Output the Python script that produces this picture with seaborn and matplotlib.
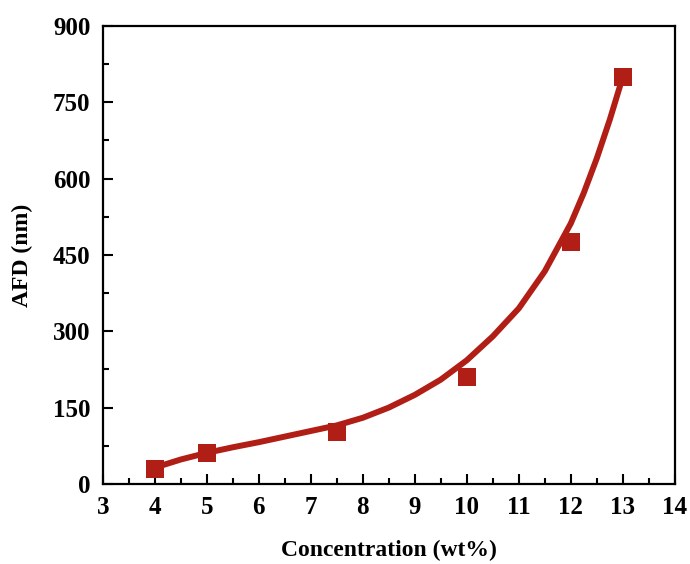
import numpy as np
import pandas as pd
import matplotlib
matplotlib.use("Agg")
import matplotlib.pyplot as plt
import seaborn as sns
from matplotlib.ticker import MultipleLocator

# measured points
conc = [4, 5, 7.5, 10, 12, 13]
afd = [30, 60, 102, 210, 476, 800]

# fitted curve
curve_x = [4, 4.5, 5, 5.5, 6, 6.5, 7, 7.5, 8, 8.5, 9, 9.5, 10, 10.5,
           11, 11.5, 12, 12.25, 12.5, 12.75, 13]
curve_y = [32, 48, 61, 72, 82, 93, 104, 115, 130, 150, 175, 205, 243, 290,
           345, 418, 512, 572, 640, 716, 800]

sns.set_style("ticks")
plt.rcParams['font.family'] = ['Liberation Serif', 'DejaVu Serif']
plt.rcParams['font.weight'] = 'bold'
plt.rcParams['text.color'] = 'black'
plt.rcParams['xtick.color'] = 'black'
plt.rcParams['ytick.color'] = 'black'
plt.rcParams['axes.labelcolor'] = 'black'

red = '#B01E16'

fig = plt.figure(figsize=(6.9, 5.64), dpi=100)
ax = fig.add_axes([0.149, 0.142, 0.829, 0.812])

pts = pd.DataFrame({'x': conc, 'y': afd})
fit = pd.DataFrame({'x': curve_x, 'y': curve_y})

sns.lineplot(data=fit, x='x', y='y', color=red, linewidth=4.3, ax=ax, sort=True)
sns.scatterplot(data=pts, x='x', y='y', color=red, marker='s', s=170,
                edgecolor=red, linewidth=0, ax=ax, zorder=3)

ax.set_xlim(3, 14)
ax.set_ylim(0, 900)
ax.xaxis.set_major_locator(MultipleLocator(1))
ax.xaxis.set_minor_locator(MultipleLocator(0.5))
ax.yaxis.set_major_locator(MultipleLocator(150))
ax.yaxis.set_minor_locator(MultipleLocator(75))

ax.tick_params(which='both', direction='in', top=False, right=False,
               width=1.5, labelsize=18, pad=9)
ax.tick_params(which='major', length=7)
ax.tick_params(which='minor', length=4)
for lab in ax.get_xticklabels() + ax.get_yticklabels():
    lab.set_fontweight('bold')

for sp in ax.spines.values():
    sp.set_visible(True)
    sp.set_linewidth(1.6)
    sp.set_color('black')

ax.set_xlabel('Concentration (wt%)', fontsize=17, fontweight='bold', labelpad=15)
ax.set_ylabel('AFD (nm)', fontsize=17, fontweight='bold', labelpad=14)

fig.savefig('out.png', dpi=100)
